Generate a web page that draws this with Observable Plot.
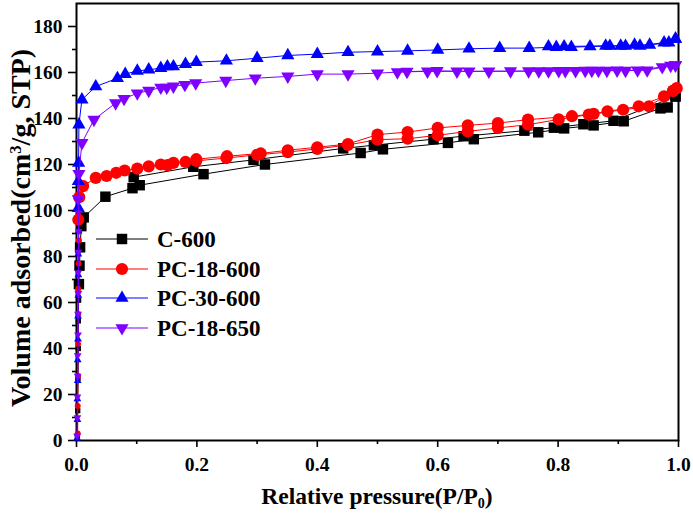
<!DOCTYPE html>
<html><head><meta charset="utf-8">
<script src="https://cdn.jsdelivr.net/npm/d3@7"></script>
<script src="https://cdn.jsdelivr.net/npm/@observablehq/plot@0.6"></script>
<style>
body{margin:0;background:#fff}
#wrap{position:relative;width:693px;height:520px;font-family:'Liberation Serif','Times New Roman',serif;font-weight:bold;color:#000}
#wrap svg{position:absolute;left:0;top:0}
.xtitle{position:absolute;left:377px;top:485px;transform:translateX(-50%);font-size:23.5px;line-height:1;white-space:nowrap}
.ytitle{position:absolute;left:21px;top:228px;transform:translate(-50%,-50%) rotate(-90deg);font-size:28px;line-height:1;white-space:nowrap}
sub{font-size:0.6em;vertical-align:-0.3em;line-height:0}
sup{font-size:0.6em;vertical-align:0.55em;line-height:0}
</style></head>
<body>
<div id="wrap"></div>
<script>
// ---------------- data ----------------
const seriesNames = ["C-600", "PC-18-600", "PC-30-600", "PC-18-650"];
const xTicks = [0, 0.2, 0.4, 0.6, 0.8, 1.0];
const xMinor = [0.1, 0.3, 0.5, 0.7, 0.9];
const yTicks = [0, 20, 40, 60, 80, 100, 120, 140, 160, 180];
const yMinor = [10, 30, 50, 70, 90, 110, 130, 150, 170];

// C-600
const c600LowP = [0.0015, 0.002, 0.0025, 0.003, 0.003, 0.0035];
const c600LowV = [2, 13, 27, 40, 52, 61];
const c600AdsP = [0.004, 0.005, 0.006, 0.008, 0.012, 0.048, 0.093, 0.105, 0.211, 0.313, 0.472, 0.509, 0.617, 0.66, 0.767, 0.81, 0.859, 0.909, 0.97, 0.982, 0.995];
const c600AdsV = [68, 76, 84, 93.2, 97, 106, 109.7, 111, 115.8, 120, 125, 126.6, 129.4, 131, 134, 135.7, 137, 138.8, 144.4, 144.8, 149.6];
const c600DesP = [0.995, 0.892, 0.842, 0.793, 0.744, 0.643, 0.593, 0.494, 0.443, 0.294, 0.194, 0.095];
const c600DesV = [149.6, 139, 137.5, 136, 134.7, 132.3, 131, 128.4, 127, 122, 119, 114.5];

// PC-18-600
const pc18LowP = [0.002, 0.002, 0.0025, 0.0025, 0.003, 0.003, 0.0035, 0.004];
const pc18LowV = [3, 15, 28, 42, 55, 66, 77, 87];
const pc18AdsP = [0.003, 0.0045, 0.011, 0.032, 0.05, 0.066, 0.08, 0.101, 0.12, 0.14, 0.151, 0.161, 0.181, 0.199, 0.249, 0.3, 0.351, 0.4, 0.451, 0.5, 0.55, 0.6, 0.65, 0.7, 0.75, 0.801, 0.851, 0.882, 0.934, 0.976, 0.991, 0.997];
const pc18AdsV = [96, 105.8, 110.6, 114.2, 115, 116.4, 117.4, 118.2, 119.2, 120, 119.7, 120.7, 121.1, 121.6, 122.8, 124.2, 125.4, 126.8, 128.5, 130.8, 131.2, 132.7, 134.4, 135.9, 137.3, 139.6, 141.7, 143.1, 145.3, 149.6, 152, 153.2];
const pc18DesP = [0.991, 0.951, 0.908, 0.859, 0.823, 0.75, 0.7, 0.65, 0.6, 0.55, 0.5, 0.451, 0.4, 0.351, 0.306, 0.25, 0.199];
const pc18DesV = [152, 145.3, 143.8, 142, 141, 139.5, 138, 137, 135.9, 134.1, 133, 128.9, 127.5, 126.2, 124.8, 123.6, 122.3];

// PC-30-600
const pc30LowP = [0.001, 0.0015, 0.0015, 0.002, 0.002, 0.0025, 0.0025, 0.003, 0.003, 0.003, 0.0035];
const pc30LowV = [1, 9, 18, 26, 35, 44, 54, 63, 72, 81, 91];
const pc30AdsP = [0.003, 0.003, 0.0035, 0.004, 0.009, 0.032, 0.068, 0.081, 0.101, 0.12, 0.14, 0.151, 0.161, 0.181, 0.199, 0.249, 0.3, 0.351, 0.4, 0.451, 0.5, 0.55, 0.6, 0.652, 0.703, 0.752, 0.797, 0.822, 0.853, 0.886, 0.912, 0.936, 0.976, 0.995];
const pc30AdsV = [101, 112.7, 120.7, 137.3, 148.2, 153.9, 157.5, 159.3, 160.7, 161.2, 161.9, 162.6, 162.6, 163.6, 164.5, 165.1, 166.2, 167.4, 168, 168.8, 169.1, 169.4, 169.8, 170.3, 170.6, 170.6, 171, 171, 171.3, 171.5, 171.5, 171.6, 173, 174.6];
const pc30DesP = [0.995, 0.984, 0.952, 0.927, 0.904, 0.879, 0.81, 0.784];
const pc30DesV = [174.6, 173, 172, 172, 171.6, 171.6, 171.3, 171.3];

// PC-18-650
const pc65LowP = [0.001, 0.0015, 0.0015, 0.002, 0.002, 0.0025, 0.0025, 0.003, 0.003, 0.003, 0.0035, 0.0035];
const pc65LowV = [2, 10, 19, 28, 37, 46, 55, 64, 73, 82, 91, 99];
const pc65AdsP = [0.003, 0.004, 0.009, 0.029, 0.065, 0.079, 0.101, 0.12, 0.14, 0.15, 0.161, 0.18, 0.198, 0.248, 0.297, 0.351, 0.4, 0.451, 0.5, 0.549, 0.599, 0.652, 0.721, 0.768, 0.801, 0.829, 0.856, 0.881, 0.912, 0.948, 0.987, 0.995];
const pc65AdsV = [105, 116, 129.4, 139.5, 146.7, 148.6, 151, 152.1, 153.5, 153.5, 154, 154.7, 155.4, 156.5, 157.5, 158.3, 159.3, 159.3, 159.7, 160.4, 160.7, 160.5, 160.6, 160.6, 160.7, 160.7, 160.8, 160.8, 160.8, 161, 163, 163.2];
const pc65DesP = [0.995, 0.973, 0.932, 0.898, 0.867, 0.845, 0.812, 0.784, 0.751, 0.685, 0.632, 0.583, 0.533];
const pc65DesV = [163.2, 162.4, 161, 160.9, 160.8, 160.8, 160.7, 160.6, 160.6, 160.5, 160.5, 160.5, 160.2];

// ---------------- build ----------------
const pts = (P, V) => P.map((p, i) => ({p, v: V[i]}));
const triangleDown = {
  draw(context, size) {
    const y = -Math.sqrt(size / (Math.sqrt(3) * 3));
    context.moveTo(0, -y * 2);
    context.lineTo(-Math.sqrt(3) * y, y);
    context.lineTo(Math.sqrt(3) * y, y);
    context.closePath();
  }
};
const series = [
  {name: seriesNames[0], color: "#000000", symbol: "square", r: 5.9, rs: 3, low: pts(c600LowP, c600LowV), ads: pts(c600AdsP, c600AdsV), des: pts(c600DesP, c600DesV)},
  {name: seriesNames[1], color: "#ff0000", symbol: "circle", r: 6.1, rs: 3, low: pts(pc18LowP, pc18LowV), ads: pts(pc18AdsP, pc18AdsV), des: pts(pc18DesP, pc18DesV)},
  {name: seriesNames[2], color: "#0000ff", symbol: "triangle", r: 4.9, rs: 2.9, low: pts(pc30LowP, pc30LowV), ads: pts(pc30AdsP, pc30AdsV), des: pts(pc30DesP, pc30DesV)},
  {name: seriesNames[3], color: "#8000ff", symbol: triangleDown, r: 4.9, rs: 2.9, low: pts(pc65LowP, pc65LowV), ads: pts(pc65AdsP, pc65AdsV), des: pts(pc65DesP, pc65DesV)}
];

const marks = [
  Plot.frame({stroke: "#000", strokeWidth: 2}),
  Plot.axisX({ticks: xTicks, tickSize: 7, tickPadding: 10, tickFormat: d3.format(".1f"), fontSize: 19.5, strokeWidth: 1.6, label: null}),
  Plot.axisX({ticks: xMinor, tickSize: 4, text: null, strokeWidth: 1.6, label: null}),
  Plot.axisY({ticks: yTicks, tickSize: 8, tickPadding: 6, tickFormat: d => String(d), fontSize: 19.5, strokeWidth: 1.6, label: null}),
  Plot.axisY({ticks: yMinor, tickSize: 4, text: null, strokeWidth: 1.6, label: null})
];
for (const s of series) {
  marks.push(Plot.line(s.low.concat(s.ads), {x: "p", y: "v", stroke: s.color, strokeWidth: 1}));
  marks.push(Plot.line(s.des, {x: "p", y: "v", stroke: s.color, strokeWidth: 1}));
  marks.push(Plot.dot(s.low, {x: "p", y: "v", symbol: s.symbol, r: s.rs, fill: s.color, stroke: "none"}));
  marks.push(Plot.dot(s.ads, {x: "p", y: "v", symbol: s.symbol, r: s.r, fill: s.color, stroke: "none"}));
  marks.push(Plot.dot(s.des, {x: "p", y: "v", symbol: s.symbol, r: s.r, fill: s.color, stroke: "none"}));
}

const chart = Plot.plot({
  width: 693, height: 520,
  marginLeft: 76, marginRight: 15, marginTop: 3, marginBottom: 80,
  x: {domain: [0, 1]},
  y: {domain: [0, 190]},
  style: {fontFamily: "'Liberation Serif','Times New Roman',serif", fontWeight: "bold", background: "white", color: "#000"},
  marks
});
const wrap = document.getElementById("wrap");
wrap.appendChild(chart);

// legend (inside plot area)
const leg = d3.select(wrap).append("svg").attr("width", 693).attr("height", 520).style("pointer-events", "none");
const legY = [239, 269, 298, 328];
series.forEach((s, i) => {
  const g = leg.append("g").attr("transform", `translate(0,${legY[i]})`);
  g.append("line").attr("x1", 96).attr("x2", 148).attr("y1", 0).attr("y2", 0).attr("stroke", s.color).attr("stroke-width", 1.2);
  const symType = s.symbol === "square" ? d3.symbolSquare : s.symbol === "circle" ? d3.symbolCircle : s.symbol === "triangle" ? d3.symbolTriangle : s.symbol;
  g.append("path").attr("transform", "translate(122,0)").attr("d", d3.symbol(symType, Math.PI * s.r * s.r)()).attr("fill", s.color);
  g.append("text").attr("x", 157).attr("y", 7.8).attr("font-family", "'Liberation Serif','Times New Roman',serif").attr("font-weight", "bold").attr("font-size", 23).attr("fill", "#000").text(s.name);
});

// axis titles
const xt = document.createElement("div");
xt.className = "xtitle";
xt.innerHTML = "Relative pressure(P/P<sub>0</sub>)";
wrap.appendChild(xt);
const yt = document.createElement("div");
yt.className = "ytitle";
yt.innerHTML = "Volume adsorbed(cm<sup>3</sup>/g, STP)";
wrap.appendChild(yt);
</script>
</body></html>
